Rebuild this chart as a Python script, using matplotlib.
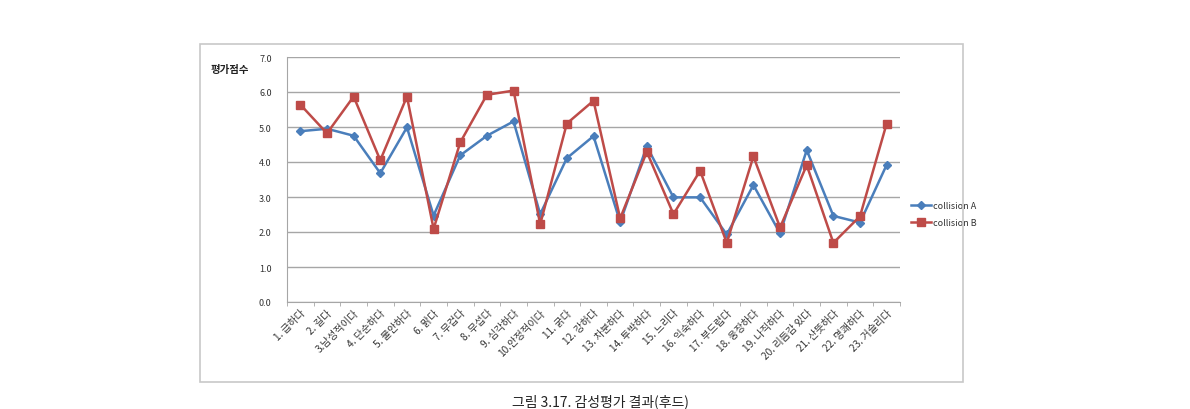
import matplotlib
matplotlib.use("Agg")
import matplotlib.pyplot as plt
from matplotlib.patches import Rectangle

plt.rcParams['font.family'] = ['Noto Sans CJK KR', 'DejaVu Sans']

categories = ["1. 급하다", "2. 길다", "3.남성적이다", "4. 단순하다", "5. 불안하다",
              "6. 맑다", "7. 무겁다", "8. 무섭다", "9. 심각하다", "10.안정적이다",
              "11. 굵다", "12. 강하다", "13. 차분하다", "14. 투박하다", "15. 느리다",
              "16. 익숙하다", "17. 부드럽다", "18. 웅장하다", "19. 나직하다",
              "20. 리듬감 있다", "21. 산뜻하다", "22. 명쾌하다", "23. 거슬리다"]
collision_a = [4.88, 4.95, 4.75, 3.68, 4.99, 2.47, 4.19, 4.75, 5.16, 2.51,
               4.11, 4.74, 2.28, 4.45, 2.99, 2.99, 1.93, 3.34, 1.96, 4.34,
               2.46, 2.27, 3.92]
collision_b = [5.64, 4.82, 5.87, 4.05, 5.87, 2.09, 4.56, 5.92, 6.04, 2.22,
               5.10, 5.75, 2.39, 4.29, 2.51, 3.75, 1.69, 4.16, 2.13, 3.91,
               1.69, 2.45, 5.10]
yticks = [0, 1, 2, 3, 4, 5, 6, 7]

fig = plt.figure(figsize=(11.9, 4.1), dpi=100)
fig.patches.append(Rectangle((200/1190, 1-383/410), (963-200)/1190, (383-45)/410,
                             transform=fig.transFigure, fill=False,
                             edgecolor='#c8c8c8', linewidth=1.2))

ax = fig.add_axes([287/1190, 1-303/410, (900-287)/1190, (303-58)/410])
x = list(range(len(categories)))
ax.plot(x, collision_a, color='#4a7ebb', marker='D', markersize=4.5, linewidth=1.8,
        label='collision A', zorder=3)
ax.plot(x, collision_b, color='#be4b48', marker='s', markersize=6, linewidth=1.8,
        label='collision B', zorder=3)

ax.set_xlim(-0.5, len(categories)-0.5)
ax.set_ylim(0, 7)
ax.set_yticks(yticks)
ax.set_yticklabels([f"{v:.1f}" for v in yticks], fontsize=6.5, color='#333333')
ax.yaxis.grid(True, color='#a6a6a6', linewidth=1)
ax.set_axisbelow(True)
ax.tick_params(axis='y', length=0, pad=11)

ax.set_xticks(x)
ax.set_xticklabels(categories, rotation=45, ha='right', rotation_mode='anchor',
                   fontsize=7.3, color='#333333')
ax.tick_params(axis='x', which='major', length=0, pad=4)
ax.set_xticks([i - 0.5 for i in range(len(categories)+1)], minor=True)
ax.tick_params(axis='x', which='minor', length=3, color='#a6a6a6')

for s in ['top', 'right']:
    ax.spines[s].set_visible(False)
ax.spines['left'].set_color('#a6a6a6')
ax.spines['bottom'].set_color('#a6a6a6')

fig.text(230/1190, 1-70/410, "평가점수", fontsize=7.5, fontweight='bold',
         ha='center', va='center', color='#222222')

leg = ax.legend(loc='center left', bbox_to_anchor=(1.005, 0.36), frameon=False,
                fontsize=6.5, handlelength=2.2, labelspacing=0.9, handletextpad=0.2)
for t in leg.get_texts():
    t.set_color('#333333')

fig.text(600/1190, 1-409/410, "그림 3.17. 감성평가 결과(후드)", fontsize=10,
         ha='center', va='bottom', color='#222222')

fig.savefig("out.png", dpi=100)
